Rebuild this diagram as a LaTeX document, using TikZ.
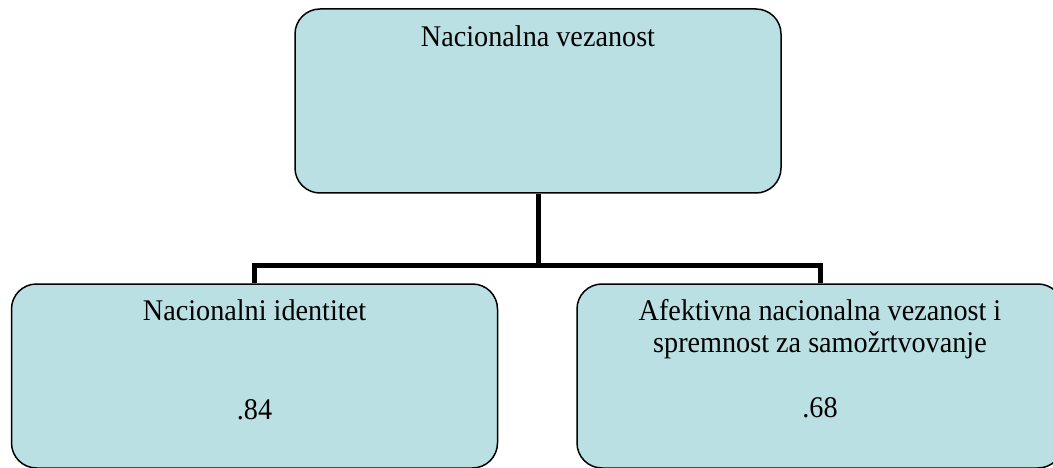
\documentclass[tikz,border=0pt]{standalone}
\usepackage{fontspec}
\setmainfont[FakeStretch=0.94]{Liberation Serif}
\definecolor{boxfill}{RGB}{186,224,227}
\begin{document}
\begin{tikzpicture}[x=1pt,y=-1pt,
  box/.style={draw=black, line width=1.5pt, fill=boxfill, rounded corners=25pt,
    minimum width=486pt, minimum height=184pt, inner sep=0pt},
  txt/.style={font=\fontsize{30}{32}\selectfont, align=center, anchor=base, inner sep=0pt},
  conn/.style={draw=black, line width=5pt, line join=miter}]
\useasboundingbox (0,0) rectangle (1053,468);
\node[box] (t) at (538,101) {};
\node[box] (l) at (254.5,376) {};
\node[box] (r) at (820,376) {};
\coordinate (j) at (538,265.5);
\draw[conn] (t.south) -- (j);
\draw[conn] (l.north) -- (l.north |- j) -- (r.north |- j) -- (r.north);
\node[txt] (tt) at ([yshift=-38pt]t.north) {Nacionalna vezanost};
\node[txt] (lt) at ([yshift=-37pt]l.north) {Nacionalni identitet};
\node[txt] (lv) at ([yshift=-136pt]l.north) {.84};
\node[txt] (rt) at ([yshift=-37pt]r.north) {Afektivna nacionalna vezanost i};
\node[txt] (rt2) at ([yshift=-69pt]r.north) {spremnost za samožrtvovanje};
\node[txt] (rv) at ([yshift=-134pt]r.north) {.68};
\end{tikzpicture}
\end{document}
